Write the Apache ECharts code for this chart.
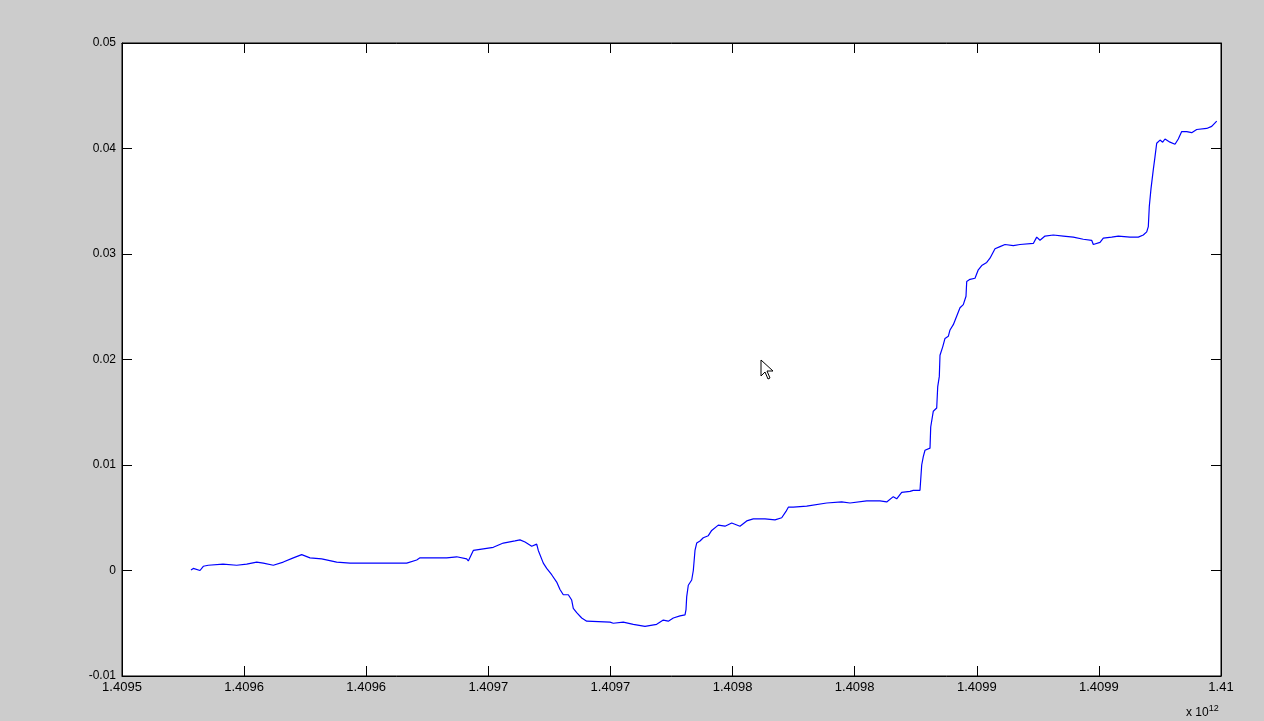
<!DOCTYPE html>
<html>
<head>
<meta charset="utf-8">
<script src="https://cdn.jsdelivr.net/npm/echarts@6/dist/echarts.min.js"></script>
<style>
html,body{margin:0;padding:0;background:#cccccc;}
#chart{width:1264px;height:721px;}
</style>
</head>
<body>
<div id="chart"></div>
<script>
// x values (ms timestamps, written in millions) and y values
const xValues = [
1409578.25e6,1409579.20e6,1409581.94e6,1409583.29e6,1409585.33e6,1409591.36e6,1409596.96e6,1409601.06e6,1409605.15e6,1409607.86e6,
1409611.96e6,1409616.04e6,1409620.15e6,1409623.58e6,1409626.98e6,1409631.77e6,1409637.91e6,1409643.36e6,1409666.58e6,1409670.67e6,
1409672.02e6,1409676.12e6,1409682.95e6,1409687.04e6,1409691.14e6,1409691.80e6,1409693.85e6,1409696.59e6,1409702.04e6,1409706.13e6,
1409710.92e6,1409712.96e6,1409715.02e6,1409717.76e6,1409719.80e6,1409720.46e6,1409722.51e6,1409723.90e6,1409725.94e6,1409727.99e6,
1409729.34e6,1409730.69e6,1409732.75e6,1409734.13e6,1409734.79e6,1409736.18e6,1409738.23e6,1409740.28e6,1409749.82e6,1409751.17e6,
1409755.26e6,1409759.36e6,1409764.15e6,1409768.93e6,1409771.64e6,1409773.69e6,1409775.74e6,1409778.48e6,1409780.53e6,1409780.94e6,
1409781.22e6,1409781.88e6,1409783.27e6,1409783.93e6,1409784.62e6,1409785.32e6,1409786.67e6,1409788.02e6,1409790.07e6,1409791.46e6,
1409794.16e6,1409796.91e6,1409799.65e6,1409803.04e6,1409805.79e6,1409808.49e6,1409813.29e6,1409817.38e6,1409820.13e6,1409821.88e6,
1409822.83e6,1409824.87e6,1409830.36e6,1409838.55e6,1409844.69e6,1409848.09e6,1409854.93e6,1409860.37e6,1409863.12e6,1409865.82e6,
1409867.21e6,1409869.26e6,1409872.66e6,1409874.01e6,1409876.75e6,1409877.45e6,1409878.10e6,1409878.80e6,1409880.85e6,1409881.14e6,
1409882.20e6,1409883.59e6,1409884.00e6,1409884.66e6,1409884.94e6,1409886.05e6,1409886.99e6,1409888.34e6,1409889.04e6,1409890.39e6,
1409891.08e6,1409893.13e6,1409894.48e6,1409895.59e6,1409895.88e6,1409897.23e6,1409899.27e6,1409900.62e6,1409902.02e6,1409904.07e6,
1409905.41e6,1409907.46e6,1409909.51e6,1409911.56e6,1409914.96e6,1409917.70e6,1409923.15e6,1409924.54e6,1409925.89e6,1409927.94e6,
1409931.33e6,1409935.43e6,1409939.52e6,1409943.62e6,1409947.05e6,1409947.71e6,1409950.46e6,1409951.81e6,1409955.24e6,1409957.95e6,
1409962.74e6,1409966.14e6,1409968.19e6,1409969.58e6,1409970.24e6,1409970.64e6,1409971.34e6,1409972.28e6,1409972.97e6,1409973.67e6,
1409975.03e6,1409976.12e6,1409977.07e6,1409979.12e6,1409981.16e6,1409982.51e6,1409983.91e6,1409985.96e6,1409988.00e6,1409990.06e6,
1409994.14e6,1409996.19e6,1409998.25e6
];
const yValues = [
0.00005,0.0002,0.0000,0.0004,0.0005,0.0006,0.0005,0.0006,0.0008,0.0007,
0.0005,0.0008,0.0012,0.0015,0.0012,0.0011,0.0008,0.0007,0.0007,0.0010,
0.0012,0.0012,0.0012,0.0013,0.0011,0.0009,0.0019,0.0020,0.0022,0.0026,
0.0028,0.0029,0.0027,0.0023,0.0025,0.0019,0.0007,0.0002,-0.0004,-0.0011,
-0.0018,-0.0023,-0.0023,-0.0028,-0.0036,-0.0040,-0.0045,-0.0048,-0.0049,-0.0050,
-0.0049,-0.0051,-0.0053,-0.0051,-0.0047,-0.0048,-0.0045,-0.0043,-0.0042,-0.0037,
-0.0025,-0.0014,-0.0009,0.0000,0.0019,0.0026,0.0028,0.0031,0.0033,0.0038,
0.0043,0.0042,0.0045,0.0042,0.0047,0.0049,0.0049,0.0048,0.0050,0.0056,
0.0060,0.0060,0.0061,0.0064,0.0065,0.0064,0.0066,0.0066,0.0065,0.0070,
0.0068,0.0074,0.0075,0.0076,0.0076,0.0100,0.0108,0.0114,0.0116,0.0136,
0.0151,0.0154,0.0174,0.0184,0.0204,0.0212,0.0220,0.0222,0.0228,0.0233,
0.0237,0.0249,0.0252,0.0260,0.0274,0.0276,0.0277,0.0285,0.0289,0.0292,
0.0296,0.0305,0.0307,0.0309,0.0308,0.0309,0.0310,0.0316,0.0313,0.0317,
0.0318,0.0317,0.0316,0.0314,0.0313,0.0309,0.0311,0.0315,0.0316,0.0317,
0.0316,0.0316,0.0318,0.0321,0.0326,0.0345,0.0362,0.0380,0.0392,0.0405,
0.0408,0.0406,0.0409,0.0406,0.0404,0.0409,0.0416,0.0416,0.0415,0.0418,
0.0419,0.0421,0.0426
];
const xTickLabels = ['1.4095','1.4096','1.4096','1.4097','1.4097','1.4098','1.4098','1.4099','1.4099','1.41'];
const yTickLabels = ['-0.01','0','0.01','0.02','0.03','0.04','0.05'];
const xMin = 1409550e6, xMax = 1410000e6, xStep = 50e6;
const yMin = -0.01, yMax = 0.05, yStep = 0.01;

const chart = echarts.init(document.getElementById('chart'), null, {renderer:'canvas'});
const FONT = 'Liberation Sans, Arial, sans-serif';
const font = {fontFamily:FONT, fontSize:12, color:'#000'};
const tickStyle = {inside:true, length:10, lineStyle:{color:'#000', width:1}};
const lineStyle = {onZero:false, lineStyle:{color:'#000', width:1}};
const xFmt = v => { const i = Math.round((v - xMin) / xStep); return xTickLabels[i] !== undefined ? xTickLabels[i] : ''; };
const yFmt = v => { const i = Math.round((v - yMin) / yStep); return yTickLabels[i] !== undefined ? yTickLabels[i] : ''; };

chart.setOption({
  animation:false,
  backgroundColor:'#cccccc',
  grid:{left:122, right:43, top:43, bottom:45, show:true, backgroundColor:'#ffffff', borderColor:'#000', borderWidth:1},
  xAxis:[
    {type:'value', min:xMin, max:xMax, interval:xStep, position:'bottom',
     axisLine:lineStyle, axisTick:tickStyle, splitLine:{show:false},
     axisLabel:Object.assign({formatter:xFmt, margin:5, showMinLabel:true, showMaxLabel:true, fontSize:13}, font, {fontSize:13})},
    {type:'value', min:xMin, max:xMax, interval:xStep, position:'top',
     axisLine:lineStyle, axisTick:tickStyle, splitLine:{show:false}, axisLabel:{show:false}}
  ],
  yAxis:[
    {type:'value', min:yMin, max:yMax, interval:yStep, position:'left',
     axisLine:lineStyle, axisTick:tickStyle, splitLine:{show:false},
     axisLabel:Object.assign({formatter:yFmt, margin:6}, font)},
    {type:'value', min:yMin, max:yMax, interval:yStep, position:'right',
     axisLine:lineStyle, axisTick:tickStyle, splitLine:{show:false}, axisLabel:{show:false}}
  ],
  series:[{
    type:'line', xAxisIndex:0, yAxisIndex:0,
    data:xValues.map((x,i)=>[x, yValues[i]]),
    showSymbol:false, symbol:'none',
    lineStyle:{color:'#0000ff', width:1.2},
    silent:true
  }],
  graphic:[
    {type:'text', left:1186, top:704,
     style:{rich:{b:{fontFamily:FONT, fontSize:12, fill:'#000'},
                  s:{fontFamily:FONT, fontSize:9, fill:'#000', verticalAlign:'top', padding:[0,0,8,0]}},
            text:'{b|x 10}{s|12}'}},
    {type:'polygon', z:100,
     shape:{points:[[761,360],[761,376],[765,372],[768,379],[770,378],[767,371],[773,371]]},
     style:{fill:'#ffffff', stroke:'#000000', lineWidth:1}}
  ]
});
</script>
</body>
</html>
